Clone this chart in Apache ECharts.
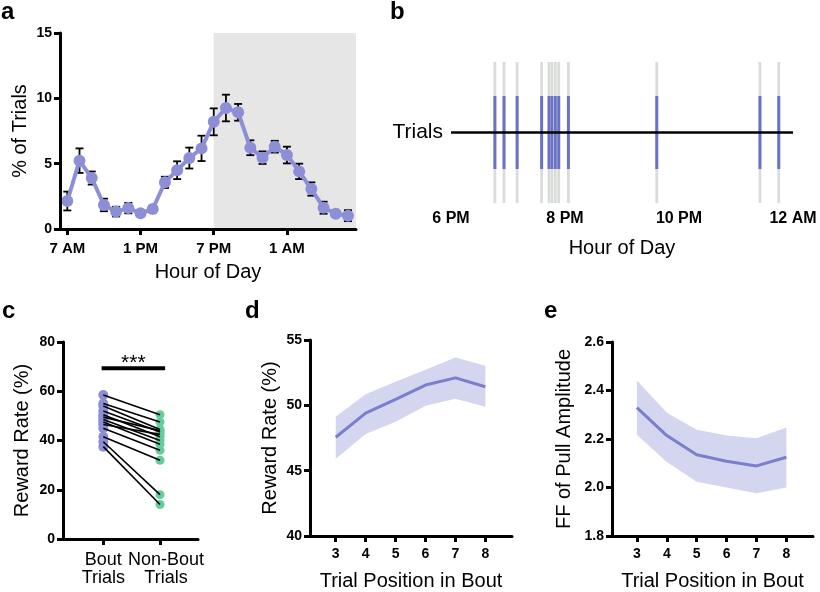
<!DOCTYPE html>
<html><head><meta charset="utf-8">
<script src="https://cdn.jsdelivr.net/npm/echarts@6/dist/echarts.min.js"></script>
<style>html,body{margin:0;padding:0;background:#fff}#c{width:820px;height:592px}</style>
</head><body><div id="c"></div>
<script>
// ---------- Panel a ----------
const hoursA = [7,8,9,10,11,12,13,14,15,16,17,18,19,20,21,22,23,24,25,26,27,28,29,30];
const meansA = [2.14,5.23,3.9,1.84,1.33,1.6,1.2,1.53,3.57,4.5,5.43,6.17,8.2,9.26,8.93,6.22,5.46,6.3,5.66,4.41,3.06,1.63,1.17,1.02];
const errsA  = [0.72,0.94,0.5,0.48,0.37,0.4,0.2,0.25,0.43,0.68,0.8,0.97,1.03,1.02,0.64,0.57,0.48,0.45,0.64,0.59,0.51,0.46,0.2,0.42];
const tickValsA = [7,13,19,25];
const tickLabelsA = ['7 AM','1 PM','7 PM','1 AM'];
const darkStartA = 19;

// ---------- Panel b ----------
const trialTimesB = [18.77,18.93,19.16,19.59,19.72,19.77,19.83,19.89,20.06,21.61,23.42,23.75];
const tickValsB = [18,20,22,24];
const tickLabelsB = ['6 PM','8 PM','10 PM','12 AM'];

// ---------- Panel c ----------
const catsC = ['Bout\nTrials','Non-Bout\nTrials'];
const catPosC = [1, 2];
const boutC    = [58.5,55,54,52,50.5,49.5,48.5,47.5,46.5,45,41.5,39.5,37.5];
const nonBoutC = [50.5,47.5,44.5,43.5,41.5,44,40,38.5,42.5,36,32,18,14];
const sigC = '***';

// ---------- Panel d ----------
const posD   = [3,4,5,6,7,8];
const meanD  = [47.56,49.4,50.46,51.55,52.1,51.42];
const upperD = [49.13,50.84,51.8,52.73,53.66,53.03];
const lowerD = [45.92,47.81,48.75,49.96,50.5,49.9];

// ---------- Panel e ----------
const posE   = [3,4,5,6,7,8];
const meanE  = [2.329,2.214,2.135,2.108,2.089,2.125];
const upperE = [2.441,2.308,2.238,2.214,2.203,2.247];
const lowerE = [2.218,2.105,2.024,2.0,1.976,2.0];

const FONT = 'Arial, "Liberation Sans", Helvetica, sans-serif';
const PURPLE = '#8c8fd6', GREEN = '#66cc99', LINE_DE = '#7b7fcb', BAND = '#d4d5ee';

function axisCommon(extra) {
  return Object.assign({
    axisLine: {show: true, onZero: false, lineStyle: {color: '#000', width: 3}},
    axisTick: {show: true, length: 6, lineStyle: {color: '#000', width: 3}},
    splitLine: {show: false},
    nameLocation: 'middle',
    nameTextStyle: {fontSize: 20, color: '#000', fontFamily: FONT},
    z: 5
  }, extra);
}
function tick(vals) {
  return {show: true, interval: 0, length: 6, lineStyle: {color: '#000', width: 3}, customValues: vals};
}
function lbl(extra) {
  return Object.assign({color: '#000', fontWeight: 'bold', fontSize: 14, fontFamily: FONT, margin: 8}, extra);
}
function bandSeries(xi, xs, lo, hi) {
  return {type: 'custom', xAxisIndex: xi, yAxisIndex: xi, z: 2, silent: true,
    data: xs.map((x, i) => [x, lo[i], hi[i]]),
    renderItem: (params, api) => {
      if (params.dataIndex !== 0) return null;
      const top = xs.map((x, i) => api.coord([x, hi[i]]));
      const bot = xs.map((x, i) => api.coord([x, lo[i]])).reverse();
      return {type: 'polygon', shape: {points: top.concat(bot)}, style: {fill: BAND}};
    }};
}

const chart = echarts.init(document.getElementById('c'), null, {renderer: 'canvas'});

const option = {
  animation: false,
  backgroundColor: '#fff',
  textStyle: {fontFamily: FONT},
  grid: [
    {left: 60, top: 33, width: 296, height: 196},      // a
    {left: 451, top: 62, width: 342, height: 141},     // b
    {left: 63, top: 342, width: 135, height: 197},     // c
    {left: 310, top: 340, width: 202, height: 198},    // d
    {left: 612, top: 342, width: 201, height: 196}     // e
  ],
  xAxis: [
    axisCommon({gridIndex: 0, type: 'value', min: 6.4, max: 30.66,
      axisTick: tick(tickValsA),
      axisLabel: lbl({customValues: tickValsA, interval: 0, fontSize: 15, margin: 12, formatter: v => tickLabelsA[tickValsA.indexOf(v)] || ''}),
      name: 'Hour of Day', nameGap: 33}),
    {gridIndex: 1, type: 'value', min: 18, max: 24, interval: 2,
      axisLine: {show: false}, axisTick: {show: false}, splitLine: {show: false},
      axisLabel: lbl({fontSize: 16, margin: 8, formatter: v => tickLabelsB[tickValsB.indexOf(v)] || ''}),
      name: 'Hour of Day', nameLocation: 'middle', nameGap: 35,
      nameTextStyle: {fontSize: 20, color: '#000', fontFamily: FONT}},
    axisCommon({gridIndex: 2, type: 'value', min: 0.289, max: 2.67,
      axisTick: tick(catPosC),
      axisLabel: {show: false}}),
    axisCommon({gridIndex: 3, type: 'value', min: 2.14, max: 8.89,
      axisTick: tick(posD),
      axisLabel: lbl({customValues: posD, interval: 0, margin: 11}),
      name: 'Trial Position in Bout', nameGap: 35}),
    axisCommon({gridIndex: 4, type: 'value', min: 2.167, max: 8.89,
      axisTick: tick(posE),
      axisLabel: lbl({customValues: posE, interval: 0, margin: 11}),
      name: 'Trial Position in Bout', nameGap: 35})
  ],
  yAxis: [
    axisCommon({gridIndex: 0, type: 'value', min: 0, max: 15, interval: 5,
      axisLabel: lbl({}), name: '% of Trials', nameGap: 30}),
    {gridIndex: 1, type: 'value', min: 0, max: 1,
      axisLine: {show: false}, axisTick: {show: false}, splitLine: {show: false},
      axisLabel: {customValues: [0.5], formatter: () => 'Trials', color: '#000', fontSize: 21, fontFamily: FONT, margin: 8}},
    axisCommon({gridIndex: 2, type: 'value', min: 0, max: 80, interval: 20,
      axisLabel: lbl({}), name: 'Reward Rate (%)', nameGap: 31}),
    axisCommon({gridIndex: 3, type: 'value', min: 40, max: 55, interval: 5,
      axisLabel: lbl({}), name: 'Reward Rate (%)', nameGap: 30}),
    axisCommon({gridIndex: 4, type: 'value', min: 1.8, max: 2.6, interval: 0.2,
      axisLabel: lbl({formatter: v => v.toFixed(1)}), name: 'FF of Pull Amplitude', nameGap: 38})
  ],
  series: [
    // ----- a: dark-phase shading
    {type: 'line', xAxisIndex: 0, yAxisIndex: 0, data: [], z: 1, silent: true,
      markArea: {silent: true, itemStyle: {color: '#e6e6e6'},
        data: [[{xAxis: darkStartA, yAxis: 0}, {xAxis: 30.66, yAxis: 15}]]}},
    // ----- a: error bars
    {type: 'custom', xAxisIndex: 0, yAxisIndex: 0, z: 2, silent: true,
      data: hoursA.map((h, i) => [h, meansA[i] - errsA[i], meansA[i] + errsA[i]]),
      renderItem: (params, api) => {
        const lo = api.coord([api.value(0), api.value(1)]);
        const hi = api.coord([api.value(0), api.value(2)]);
        const w = 4, st = {stroke: '#000', lineWidth: 1.8};
        return {type: 'group', children: [
          {type: 'line', shape: {x1: lo[0], y1: lo[1], x2: hi[0], y2: hi[1]}, style: st},
          {type: 'line', shape: {x1: lo[0]-w, y1: lo[1], x2: lo[0]+w, y2: lo[1]}, style: st},
          {type: 'line', shape: {x1: hi[0]-w, y1: hi[1], x2: hi[0]+w, y2: hi[1]}, style: st}
        ]};
      }},
    // ----- a: mean line
    {type: 'line', xAxisIndex: 0, yAxisIndex: 0, z: 3,
      data: hoursA.map((h, i) => [h, meansA[i]]),
      symbol: 'circle', symbolSize: 12, showSymbol: true,
      lineStyle: {color: PURPLE, width: 4}, itemStyle: {color: PURPLE}},

    // ----- b: trial events
    {type: 'custom', xAxisIndex: 1, yAxisIndex: 1, z: 2, silent: true,
      data: trialTimesB.map(t => [t]),
      renderItem: (params, api) => {
        const x = api.coord([api.value(0), 0])[0];
        const y0 = api.coord([18, 0])[1], y1 = api.coord([18, 1])[1];
        const b0 = api.coord([18, 0.241])[1], b1 = api.coord([18, 0.759])[1];
        return {type: 'group', children: [
          {type: 'rect', shape: {x: x - 1.4, y: y1, width: 2.8, height: y0 - y1}, style: {fill: '#d9ddd9'}},
          {type: 'rect', shape: {x: x - 1.5, y: b1, width: 3, height: b0 - b1}, style: {fill: '#6a72c8'}}
        ]};
      }},
    {type: 'line', xAxisIndex: 1, yAxisIndex: 1, z: 5, silent: true,
      data: [[18, 0.5], [24, 0.5]], symbol: 'none', lineStyle: {color: '#000', width: 2.5}},

    // ----- c: category labels under the axis (placed through the axis scale)
    {type: 'custom', xAxisIndex: 2, yAxisIndex: 2, z: 5, silent: true,
      data: catPosC.map((p, i) => [p, i]),
      renderItem: (params, api) => {
        const i = api.value(1);
        const p = api.coord([api.value(0), 0]);
        return {type: 'text', style: {x: p[0] + (i === 1 ? 6 : 0), y: p[1] + 12, text: catsC[i],
          fill: '#000', font: '18px ' + FONT, lineHeight: 18, textAlign: 'center', textVerticalAlign: 'top'}};
      }},
    // ----- c: paired lines
    {type: 'custom', xAxisIndex: 2, yAxisIndex: 2, z: 4, silent: true,
      data: boutC.map((b, i) => [b, nonBoutC[i]]),
      renderItem: (params, api) => {
        const p1 = api.coord([catPosC[0], api.value(0)]);
        const p2 = api.coord([catPosC[1], api.value(1)]);
        return {type: 'line', shape: {x1: p1[0], y1: p1[1], x2: p2[0], y2: p2[1]}, style: {stroke: '#000', lineWidth: 1.6}};
      }},
    {type: 'scatter', xAxisIndex: 2, yAxisIndex: 2, z: 3, symbolSize: 10,
      data: boutC.map(v => [catPosC[0], v]), itemStyle: {color: PURPLE, opacity: 1}},
    {type: 'scatter', xAxisIndex: 2, yAxisIndex: 2, z: 3, symbolSize: 9,
      data: nonBoutC.map(v => [catPosC[1], v]), itemStyle: {color: GREEN, opacity: 1}},
    // ----- c: significance bar
    {type: 'custom', xAxisIndex: 2, yAxisIndex: 2, z: 4, silent: true,
      data: [[0.97, 2.09, 69.3]],
      renderItem: (params, api) => {
        const a = api.coord([api.value(0), api.value(2)]);
        const b = api.coord([api.value(1), api.value(2)]);
        return {type: 'group', children: [
          {type: 'line', shape: {x1: a[0], y1: a[1], x2: b[0], y2: b[1]}, style: {stroke: '#000', lineWidth: 4}},
          {type: 'text', style: {x: (a[0] + b[0]) / 2, y: a[1] - 5, text: sigC, fill: '#000',
            font: '21px ' + FONT, textAlign: 'center', textVerticalAlign: 'middle'}}
        ]};
      }},

    // ----- d: band + mean
    bandSeries(3, posD, lowerD, upperD),
    {type: 'line', xAxisIndex: 3, yAxisIndex: 3, symbol: 'none', z: 4,
      data: posD.map((x, i) => [x, meanD[i]]), lineStyle: {color: LINE_DE, width: 3}},

    // ----- e: band + mean
    bandSeries(4, posE, lowerE, upperE),
    {type: 'line', xAxisIndex: 4, yAxisIndex: 4, symbol: 'none', z: 4,
      data: posE.map((x, i) => [x, meanE[i]]), lineStyle: {color: LINE_DE, width: 3}}
  ],
  graphic: [
    {type: 'text', left: 1, top: 0, style: {text: 'a', font: 'bold 24px ' + FONT, fill: '#000'}},
    {type: 'text', left: 390, top: 0, style: {text: 'b', font: 'bold 24px ' + FONT, fill: '#000'}},
    {type: 'text', left: 2, top: 299, style: {text: 'c', font: 'bold 24px ' + FONT, fill: '#000'}},
    {type: 'text', left: 245, top: 299, style: {text: 'd', font: 'bold 24px ' + FONT, fill: '#000'}},
    {type: 'text', left: 544, top: 299, style: {text: 'e', font: 'bold 24px ' + FONT, fill: '#000'}}
  ]
};
chart.setOption(option);
</script>
</body></html>
